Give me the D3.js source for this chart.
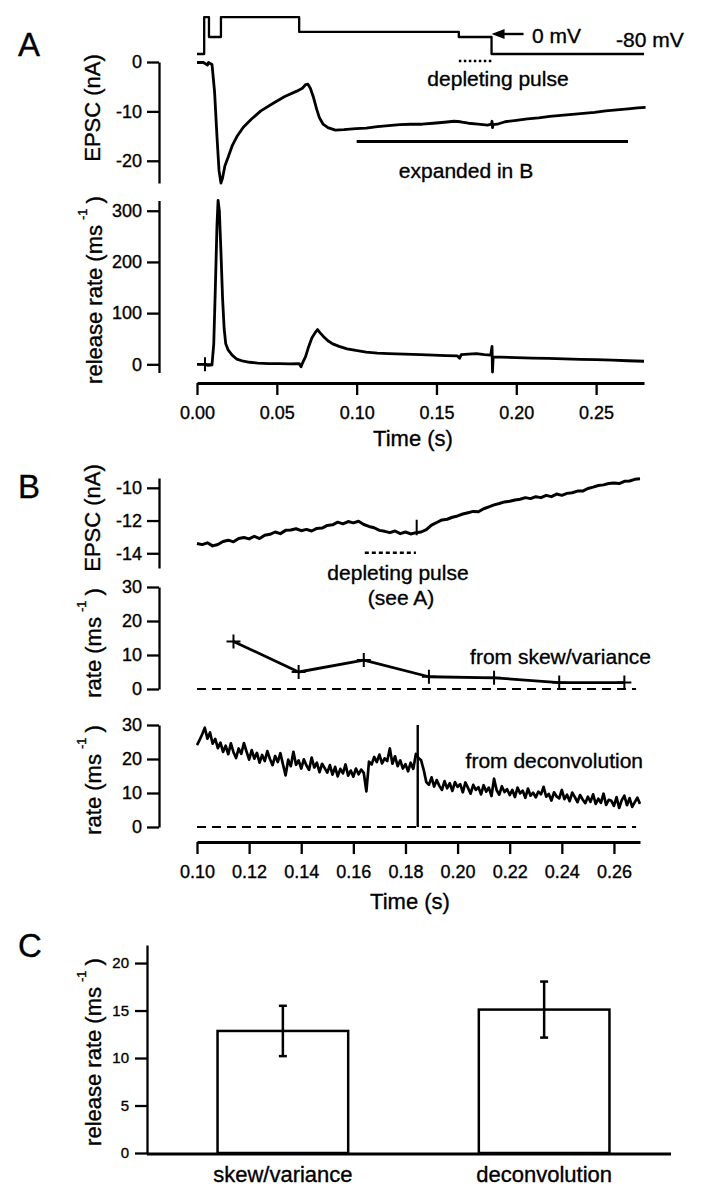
<!DOCTYPE html>
<html>
<head>
<meta charset="utf-8">
<script src="https://cdn.jsdelivr.net/npm/d3@7"></script>
<style>
  body { margin: 0; background: #fff; }
  svg { display: block; font-family: "Liberation Sans", Arial, Helvetica, sans-serif; }
  svg text { fill: #000; stroke: #000; stroke-width: 0.35px; }
</style>
</head>
<body>
<script>
// ---------------- data ----------------
// A: voltage protocol, level i holds from protocolTimes[i] to protocolTimes[i+1]
const protocolTimes = [0, 0.0045, 0.0075, 0.015, 0.064, 0.164, 0.1845, 0.28];
const protocolLevels = [-80, 94, 0, 94, 24, 0, -80];
const pulseWindowA = [0.164, 0.1845];
const expandedRange = [0.10, 0.27];

// A: EPSC (nA) vs time (s)
const epscA = [
  [0.000, -0.1], [0.004, -0.1], [0.0066, -0.6], [0.0072, -0.1], [0.0094, -0.5],
  [0.011, -6], [0.0125, -15], [0.0138, -22], [0.0150, -24.5], [0.0160, -23.5],
  [0.0175, -21], [0.0195, -19.3], [0.022, -17], [0.025, -15.1], [0.029, -13.2],
  [0.034, -11.6], [0.040, -9.9], [0.048, -8.3], [0.055, -7.0], [0.0625, -5.9],
  [0.066, -5.3], [0.068, -4.6], [0.0695, -4.5], [0.071, -5.3], [0.073, -7.2],
  [0.075, -9.6], [0.0767, -11.3], [0.079, -12.6], [0.082, -13.3], [0.0867, -13.8],
  [0.092, -13.7], [0.0995, -13.5], [0.106, -13.4], [0.113, -13.1], [0.120, -12.9],
  [0.127, -12.7], [0.134, -12.6], [0.141, -12.6], [0.148, -12.4], [0.155, -12.2],
  [0.161, -12.0], [0.165, -12.1], [0.170, -12.4], [0.176, -12.6], [0.182, -12.8],
  [0.1845, -12.6], [0.1848, -12.0], [0.1851, -13.3], [0.1855, -12.7], [0.188, -12.6],
  [0.193, -12.1], [0.200, -11.8], [0.207, -11.5], [0.214, -11.3], [0.221, -11.0],
  [0.228, -10.8], [0.235, -10.6], [0.242, -10.4], [0.249, -10.2], [0.256, -9.9],
  [0.263, -9.7], [0.270, -9.5], [0.276, -9.3], [0.281, -9.2]
];

// A: release rate (ms^-1) vs time (s)
const rateA = [
  [0.000, 0], [0.004, 0], [0.005, 0], [0.007, -2], [0.0094, -1],
  [0.0105, 40], [0.0115, 150], [0.0125, 270], [0.0132, 320], [0.0140, 300],
  [0.0150, 220], [0.0160, 130], [0.0170, 70], [0.0180, 40], [0.0195, 28],
  [0.022, 18], [0.025, 10], [0.029, 6], [0.033, 4], [0.038, 2.5],
  [0.045, 1.5], [0.052, 1.5], [0.058, 1], [0.064, 1.5], [0.0652, -5],
  [0.066, 2], [0.068, 15], [0.070, 35], [0.072, 52], [0.0745, 64],
  [0.0755, 68], [0.077, 62], [0.079, 55], [0.082, 46], [0.085, 40],
  [0.089, 35], [0.094, 30], [0.0995, 27], [0.106, 24], [0.113, 22],
  [0.120, 21], [0.130, 20], [0.140, 19], [0.148, 18], [0.156, 17],
  [0.163, 16.5], [0.1645, 12], [0.1655, 19], [0.170, 20], [0.175, 21],
  [0.180, 19], [0.184, 18], [0.1848, 35], [0.1851, -15], [0.1855, 14],
  [0.190, 14], [0.200, 13], [0.210, 12], [0.220, 11.5], [0.230, 10.5],
  [0.240, 9.5], [0.250, 9], [0.260, 8], [0.270, 7], [0.280, 6]
];
const rateAMarker = [[0.005, 0]];

// B: EPSC (nA), sampled every 2 ms from 0.100 s
const epscBStart = 0.100, epscBStep = 0.002;
const epscB = [
  -13.40, -13.47, -13.36, -13.55, -13.46, -13.28, -13.20, -13.30, -13.10, -13.04,
  -13.12, -12.96, -13.10, -12.90, -12.84, -12.70, -12.80, -12.60, -12.58, -12.50,
  -12.62, -12.54, -12.64, -12.48, -12.46, -12.30, -12.26, -12.10, -12.20, -12.06,
  -12.14, -12.04, -12.24, -12.36, -12.44, -12.60, -12.66, -12.74, -12.64, -12.80,
  -12.70, -12.82, -12.74, -12.70, -12.56, -12.28, -12.12, -11.96, -11.92, -11.80,
  -11.72, -11.60, -11.52, -11.44, -11.46, -11.28, -11.16, -11.04, -10.96, -10.86,
  -10.82, -10.74, -10.70, -10.60, -10.66, -10.54, -10.60, -10.46, -10.54, -10.38,
  -10.46, -10.34, -10.30, -10.20, -10.20, -10.04, -9.96, -9.86, -9.82, -9.74,
  -9.70, -9.74, -9.60, -9.58, -9.48, -9.45
];
const epscBArtifact = [{ t: 0.1843, lo: -12.9, hi: -11.95 }];
const pulseWindowB = [0.1644, 0.184];

// B: release rate from skew/variance
const skewTime = [0.114, 0.139, 0.164, 0.189, 0.214, 0.239, 0.264];
const skewRate = [14.0, 5.0, 8.5, 3.6, 3.3, 1.9, 1.9];

// B: release rate from deconvolution, sampled every 1 ms from 0.100 s
const deconvStart = 0.100, deconvStep = 0.001;
const deconvRate = [
  24.1, 25.6, 27.3, 29.2, 26.0, 27.8, 24.5, 25.9, 23.2, 24.8,
  22.1, 23.9, 21.4, 24.6, 22.0, 20.3, 23.1, 21.5, 24.7, 22.2,
  19.8, 22.6, 20.1, 21.8, 18.9, 21.2, 19.4, 22.3, 20.0, 18.2,
  20.9, 19.1, 21.7, 18.4, 15.2, 19.8, 17.9, 22.1, 18.3, 19.6,
  17.2, 19.9, 18.1, 16.8, 20.4, 17.5, 18.9, 16.1, 18.6, 17.3,
  16.0, 18.2, 15.4, 17.7, 14.9, 17.1, 15.8, 18.4, 15.1, 16.6,
  14.8, 17.2, 15.5, 16.9, 15.9, 10.5, 19.2, 18.4, 20.6, 19.1,
  21.3, 18.7, 20.2, 19.4, 23.1, 18.6, 20.8, 17.9, 19.6, 17.2,
  18.5, 16.4, 18.9, 17.1, 21.5, 20.3, 19.6, 16.8, 13.2, 12.4,
  14.6, 11.9, 13.8, 12.1, 10.9, 13.5, 11.4, 12.9, 10.6, 13.2,
  11.8, 12.6, 10.2, 13.1, 11.5, 9.8, 12.4, 10.9, 11.7, 9.6,
  12.3, 10.4, 11.6, 9.1, 14.2, 10.8, 9.5, 12.0, 10.3, 11.1,
  9.4, 10.9, 8.8, 11.6, 9.9, 10.7, 8.6, 11.3, 9.2, 10.1,
  8.7, 10.4, 9.6, 11.8, 8.9, 9.7, 7.8, 10.2, 9.0, 8.4,
  10.9, 8.2, 9.5, 7.6, 10.1, 8.8, 7.3, 9.4, 8.1, 7.0,
  8.9, 7.4, 9.6, 6.8, 8.3, 7.1, 9.8, 6.5, 8.0, 7.7,
  6.2, 8.8, 5.6, 7.9, 9.2, 6.4, 8.5, 5.9, 7.3, 8.6,
  6.8
];
const deconvArtifact = [{ t: 0.1847, lo: 0, hi: 30 }];

// C: mean release rate +- error
const methods = ["skew/variance", "deconvolution"];
const meanRate = [12.85, 15.1];
const errRate = [2.65, 2.95];

// tick values
const timeTicksA = [0, 0.05, 0.10, 0.15, 0.20, 0.25];
const timeTicksB = [0.10, 0.12, 0.14, 0.16, 0.18, 0.20, 0.22, 0.24, 0.26];
const epscTicksA = [0, -10, -20];
const rateTicksA = [0, 100, 200, 300];
const epscTicksB = [-10, -12, -14];
const rateTicksB = [0, 10, 20, 30];
const rateTicksC = [0, 5, 10, 15, 20];

// ---------------- drawing ----------------
const W = 709, H = 1199;
const svg = d3.select("body").append("svg").attr("width", W).attr("height", H);

const LW = 2.8;   // trace width
const AW = 2.3;   // axis width
const TICK_FONT = 18, TITLE_FONT = 22, NOTE_FONT = 21;

const xA = d3.scaleLinear().domain([0, 0.28]).range([197, 644]);
const vA = d3.scaleLinear().domain([-80, 0]).range([54, 37]);
const yEpscA = d3.scaleLinear().domain([-24.5, 0]).range([183, 62]);
const yRateA = d3.scaleLinear().domain([-16, 320]).range([372.5, 200.5]);

const xB = d3.scaleLinear().domain([0.10, 0.27]).range([197, 640]);
const yEpscB = d3.scaleLinear().domain([-14.9, -9.4]).range([568, 478]);
const ySkew = d3.scaleLinear().domain([0, 30]).range([689, 587]);
const yDeconv = d3.scaleLinear().domain([0, 30]).range([827, 725]);

const xC = d3.scaleBand().domain(methods).range([147, 680]).paddingInner(0.5).paddingOuter(0.27);
const yC = d3.scaleLinear().domain([0, 21.9]).range([1153, 945]);

const fmtInt = d => String(d);
const fmtTime = d => d.toFixed(2);

function styleAxis(g, size) {
  g.attr("font-family", null).attr("font-size", size);
  g.select(".domain").attr("stroke-width", AW);
  g.selectAll(".tick line").attr("stroke-width", AW);
}

function leftAxis(scale, ticks, x, size, pad) {
  const g = svg.append("g").attr("transform", `translate(${x},0)`)
    .call(d3.axisLeft(scale).tickValues(ticks).tickFormat(fmtInt)
      .tickSize(12).tickSizeOuter(0).tickPadding(pad));
  styleAxis(g, size);
  return g;
}

function timeAxis(scale, ticks, y) {
  const g = svg.append("g").attr("transform", `translate(0,${y})`)
    .call(d3.axisBottom(scale).tickValues(ticks).tickFormat(fmtTime)
      .tickSize(12).tickSizeOuter(0).tickPadding(11));
  styleAxis(g, TICK_FONT);
  g.select(".domain").attr("stroke-width", 2.8);
  return g;
}

function trace(data, line, width) {
  svg.append("path").datum(data).attr("d", line)
    .attr("fill", "none").attr("stroke", "#000")
    .attr("stroke-width", width || LW).attr("stroke-linejoin", "round");
}

function text(x, y, str, size, anchor) {
  return svg.append("text").attr("x", x).attr("y", y)
    .attr("font-size", size).attr("text-anchor", anchor || "start").text(str);
}

function vLabel(x, y, str, size) {
  svg.append("text").attr("transform", `translate(${x},${y}) rotate(-90)`)
    .attr("text-anchor", "middle").attr("font-size", size).text(str);
}

function rateLabel(x, y, main, size) {
  const t = svg.append("text").attr("transform", `translate(${x},${y}) rotate(-90)`)
    .attr("text-anchor", "middle").attr("font-size", size);
  t.append("tspan").text(main + " (ms");
  t.append("tspan").attr("font-size", 13).attr("dx", 5).attr("dy", -15).text("-1");
  t.append("tspan").attr("dx", 5).attr("dy", 15).text(")");
}

function cross(xs, ys, pts, r) {
  svg.append("g").selectAll("path").data(pts).join("path")
    .attr("d", d => `M${xs(d[0]) - r},${ys(d[1])}H${xs(d[0]) + r}M${xs(d[0])},${ys(d[1]) - r}V${ys(d[1]) + r}`)
    .attr("stroke", "#000").attr("stroke-width", 2);
}

// ---------- Panel A ----------
text(18, 56, "A", 33);

// voltage protocol
const protoPts = protocolLevels.map((v, i) => [protocolTimes[i], v]);
protoPts.push([protocolTimes[protocolTimes.length - 1], protocolLevels[protocolLevels.length - 1]]);
trace(protoPts, d3.line().curve(d3.curveStepAfter).x(d => xA(d[0])).y(d => vA(d[1])), 2.3);

// arrow to 0 mV
const arrowX = xA(pulseWindowA[1]), arrowY = vA(0) - 3;
svg.append("line").attr("x1", arrowX + 10).attr("x2", arrowX + 32)
  .attr("y1", arrowY).attr("y2", arrowY).attr("stroke", "#000").attr("stroke-width", 2.4);
svg.append("path")
  .attr("d", `M${arrowX},${arrowY}L${arrowX + 13},${arrowY - 5}L${arrowX + 13},${arrowY + 5}Z`)
  .attr("fill", "#000");
text(532, 43, "0 mV", NOTE_FONT);
text(616, 47, "-80 mV", NOTE_FONT);

// depleting pulse marker
svg.append("line").attr("x1", xA(pulseWindowA[0])).attr("x2", xA(pulseWindowA[1]))
  .attr("y1", yEpscA(0.2)).attr("y2", yEpscA(0.2))
  .attr("stroke", "#000").attr("stroke-width", 2.4).attr("stroke-dasharray", "2.5,2.5");
text(498, 86, "depleting pulse", NOTE_FONT, "middle");

// EPSC
leftAxis(yEpscA, epscTicksA, 159, TICK_FONT, 5);
vLabel(100, 108, "EPSC (nA)", TITLE_FONT);
trace(epscA, d3.line().x(d => xA(d[0])).y(d => yEpscA(d[1])));

svg.append("line").attr("x1", xA(expandedRange[0])).attr("x2", xA(expandedRange[1]))
  .attr("y1", yEpscA(-16.1)).attr("y2", yEpscA(-16.1))
  .attr("stroke", "#000").attr("stroke-width", 3);
text(466, 178, "expanded in B", NOTE_FONT, "middle");

// release rate
leftAxis(yRateA, rateTicksA, 159, TICK_FONT, 5);
rateLabel(102, 290, "release rate", TITLE_FONT);
trace(rateA, d3.line().x(d => xA(d[0])).y(d => yRateA(d[1])));
cross(xA, yRateA, rateAMarker, 7);

timeAxis(xA, timeTicksA, 383);
text(413, 446, "Time (s)", TITLE_FONT, "middle");

// ---------- Panel B ----------
text(18, 498, "B", 33);

leftAxis(yEpscB, epscTicksB, 159, TICK_FONT, 5);
vLabel(100, 518, "EPSC (nA)", TITLE_FONT);
const epscBPts = epscB.map((v, i) => [epscBStart + i * epscBStep, v]);
trace(epscBPts, d3.line().x(d => xB(d[0])).y(d => yEpscB(d[1])), 3);
svg.append("g").selectAll("line").data(epscBArtifact).join("line")
  .attr("x1", d => xB(d.t)).attr("x2", d => xB(d.t))
  .attr("y1", d => yEpscB(d.lo)).attr("y2", d => yEpscB(d.hi))
  .attr("stroke", "#000").attr("stroke-width", 2);

svg.append("line").attr("x1", xB(pulseWindowB[0])).attr("x2", xB(pulseWindowB[1]))
  .attr("y1", yEpscB(-13.97)).attr("y2", yEpscB(-13.97))
  .attr("stroke", "#000").attr("stroke-width", 2.4).attr("stroke-dasharray", "4,3");
text(398, 580, "depleting pulse", NOTE_FONT, "middle");
text(401, 605, "(see A)", NOTE_FONT, "middle");

// skew / variance
leftAxis(ySkew, rateTicksB, 159, TICK_FONT, 5);
rateLabel(101, 643, "rate", TITLE_FONT);
svg.append("line").attr("x1", xB.range()[0]).attr("x2", xB(0.2685))
  .attr("y1", ySkew(0)).attr("y2", ySkew(0))
  .attr("stroke", "#000").attr("stroke-width", 2.2).attr("stroke-dasharray", "9,6");
const skewPts = skewTime.map((t, i) => [t, skewRate[i]]);
trace(skewPts, d3.line().x(d => xB(d[0])).y(d => ySkew(d[1])));
cross(xB, ySkew, skewPts, 7);
text(651, 664, "from skew/variance", NOTE_FONT, "end");

// deconvolution
leftAxis(yDeconv, rateTicksB, 159, TICK_FONT, 5);
rateLabel(101, 780, "rate", TITLE_FONT);
svg.append("line").attr("x1", xB.range()[0]).attr("x2", xB(0.2685))
  .attr("y1", yDeconv(0)).attr("y2", yDeconv(0))
  .attr("stroke", "#000").attr("stroke-width", 2.2).attr("stroke-dasharray", "9,6");
const deconvPts = deconvRate.map((v, i) => [deconvStart + i * deconvStep, v]);
trace(deconvPts, d3.line().x(d => xB(d[0])).y(d => yDeconv(d[1])), 2.7);
svg.append("g").selectAll("line").data(deconvArtifact).join("line")
  .attr("x1", d => xB(d.t)).attr("x2", d => xB(d.t))
  .attr("y1", d => yDeconv(d.lo)).attr("y2", d => yDeconv(d.hi))
  .attr("stroke", "#000").attr("stroke-width", 2.4);
text(643, 768, "from deconvolution", NOTE_FONT, "end");

timeAxis(xB, timeTicksB, 842);
text(410, 909, "Time (s)", TITLE_FONT, "middle");

// ---------- Panel C ----------
text(18, 957, "C", 33);

leftAxis(yC, rateTicksC, 147, 15, 6);
rateLabel(101, 1052, "release rate", TITLE_FONT);

svg.append("line").attr("x1", 147).attr("x2", 671)
  .attr("y1", yC(0) + 1).attr("y2", yC(0) + 1)
  .attr("stroke", "#000").attr("stroke-width", 2.8);

svg.append("g").selectAll("rect").data(methods).join("rect")
  .attr("x", d => xC(d)).attr("width", xC.bandwidth())
  .attr("y", (d, i) => yC(meanRate[i]))
  .attr("height", (d, i) => yC(0) - yC(meanRate[i]))
  .attr("fill", "#fff").attr("stroke", "#000").attr("stroke-width", 2.5);

const err = svg.append("g").attr("stroke", "#000").attr("stroke-width", 2.5);
methods.forEach((m, i) => {
  const cx = xC(m) + xC.bandwidth() / 2;
  const lo = yC(meanRate[i] - errRate[i]), hi = yC(meanRate[i] + errRate[i]);
  err.append("line").attr("x1", cx).attr("x2", cx).attr("y1", lo).attr("y2", hi);
  err.append("line").attr("x1", cx - 4).attr("x2", cx + 4).attr("y1", lo).attr("y2", lo);
  err.append("line").attr("x1", cx - 4).attr("x2", cx + 4).attr("y1", hi).attr("y2", hi);
});

svg.append("g").selectAll("text").data(methods).join("text")
  .attr("x", d => xC(d) + xC.bandwidth() / 2).attr("y", 1182)
  .attr("text-anchor", "middle").attr("font-size", 22).text(d => d);
</script>
</body>
</html>
